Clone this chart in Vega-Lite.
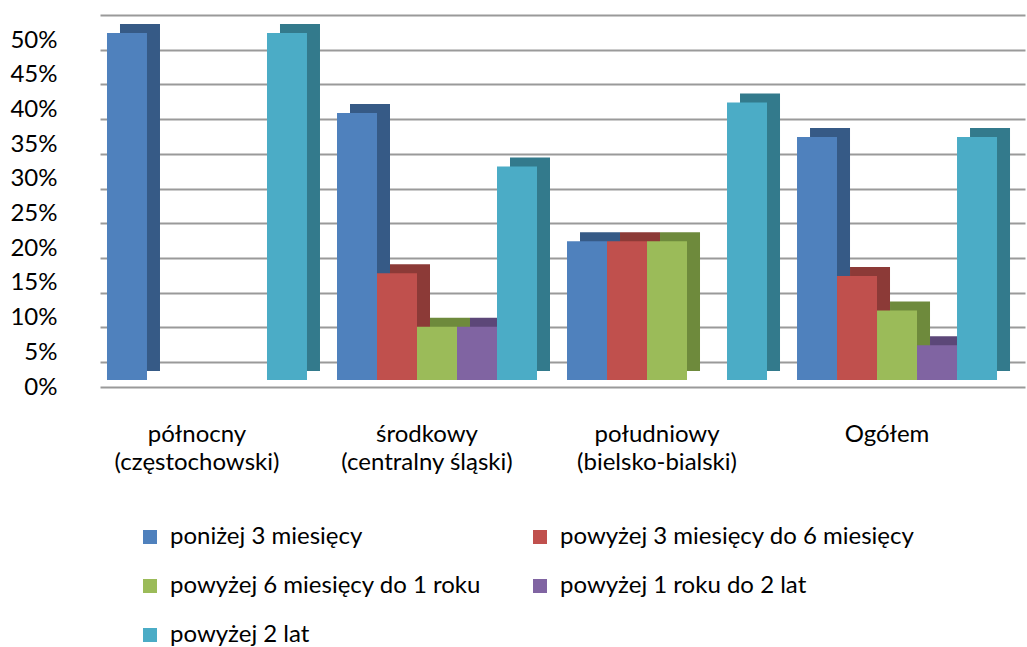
{
  "$schema": "https://vega.github.io/schema/vega-lite/v6.json",
  "width": 925,
  "height": 347,
  "autosize": {"type": "none"},
  "padding": {"left": 100, "top": 33, "right": 2, "bottom": 267},
  "background": "white",
  "config": {"font": "Lato", "view": {"stroke": null}},
  "data": {
    "values": [
      {"region": "północny|(częstochowski)", "series": "poniżej 3 miesięcy", "value": 0.5},
      {"region": "północny|(częstochowski)", "series": "powyżej 3 miesięcy do 6 miesięcy", "value": 0},
      {"region": "północny|(częstochowski)", "series": "powyżej 6 miesięcy do 1 roku", "value": 0},
      {"region": "północny|(częstochowski)", "series": "powyżej 1 roku do 2 lat", "value": 0},
      {"region": "północny|(częstochowski)", "series": "powyżej 2 lat", "value": 0.5},
      {"region": "środkowy|(centralny śląski)", "series": "poniżej 3 miesięcy", "value": 0.3846},
      {"region": "środkowy|(centralny śląski)", "series": "powyżej 3 miesięcy do 6 miesięcy", "value": 0.1538},
      {"region": "środkowy|(centralny śląski)", "series": "powyżej 6 miesięcy do 1 roku", "value": 0.0769},
      {"region": "środkowy|(centralny śląski)", "series": "powyżej 1 roku do 2 lat", "value": 0.0769},
      {"region": "środkowy|(centralny śląski)", "series": "powyżej 2 lat", "value": 0.3077},
      {"region": "południowy|(bielsko-bialski)", "series": "poniżej 3 miesięcy", "value": 0.2},
      {"region": "południowy|(bielsko-bialski)", "series": "powyżej 3 miesięcy do 6 miesięcy", "value": 0.2},
      {"region": "południowy|(bielsko-bialski)", "series": "powyżej 6 miesięcy do 1 roku", "value": 0.2},
      {"region": "południowy|(bielsko-bialski)", "series": "powyżej 1 roku do 2 lat", "value": 0},
      {"region": "południowy|(bielsko-bialski)", "series": "powyżej 2 lat", "value": 0.4},
      {"region": "Ogółem", "series": "poniżej 3 miesięcy", "value": 0.35},
      {"region": "Ogółem", "series": "powyżej 3 miesięcy do 6 miesięcy", "value": 0.15},
      {"region": "Ogółem", "series": "powyżej 6 miesięcy do 1 roku", "value": 0.1},
      {"region": "Ogółem", "series": "powyżej 1 roku do 2 lat", "value": 0.05},
      {"region": "Ogółem", "series": "powyżej 2 lat", "value": 0.35}
    ]
  },
  "encoding": {
    "x": {
      "field": "region",
      "type": "nominal",
      "sort": ["północny|(częstochowski)", "środkowy|(centralny śląski)", "południowy|(bielsko-bialski)", "Ogółem"],
      "scale": {"paddingInner": 0.1304, "paddingOuter": 0.076, "align": 0.2},
      "axis": {
        "title": null,
        "labelAngle": 0,
        "labelExpr": "split(datum.label, '|')",
        "labelFontSize": 24,
        "labelColor": "#000000",
        "labelLineHeight": 28,
        "labelPadding": 35,
        "labelOffset": -10,
        "ticks": false,
        "domain": true,
        "domainColor": "#9a9a9a",
        "domainWidth": 2,
        "offset": 7,
        "grid": false
      }
    },
    "y": {
      "field": "value",
      "type": "quantitative",
      "scale": {"domain": [0, 0.5], "nice": false},
      "axis": {
        "title": null,
        "format": ".0%",
        "values": [0, 0.05, 0.1, 0.15, 0.2, 0.25, 0.3, 0.35, 0.4, 0.45, 0.5],
        "labelFontSize": 24,
        "labelColor": "#000000",
        "labelPadding": 43,
        "tickOffset": -18,
        "labelOffset": 25,
        "ticks": false,
        "domain": false,
        "grid": true,
        "gridColor": "#9a9a9a",
        "gridWidth": 2
      }
    }
  },
  "layer": [
    {
      "mark": {"type": "bar", "yOffset": -9, "y2Offset": -9},
      "encoding": {
        "xOffset": {
          "field": "series",
          "sort": ["poniżej 3 miesięcy", "powyżej 3 miesięcy do 6 miesięcy", "powyżej 6 miesięcy do 1 roku", "powyżej 1 roku do 2 lat", "powyżej 2 lat"],
          "scale": {"range": [13, 213]}
        },
        "color": {
          "field": "series",
          "type": "nominal",
          "sort": ["poniżej 3 miesięcy", "powyżej 3 miesięcy do 6 miesięcy", "powyżej 6 miesięcy do 1 roku", "powyżej 1 roku do 2 lat", "powyżej 2 lat"],
          "scale": {"range": ["#365A86", "#8C3A37", "#6E8A3C", "#5C4778", "#337A8C"]},
          "legend": null
        }
      }
    },
    {
      "mark": {"type": "bar"},
      "encoding": {
        "xOffset": {
          "field": "series",
          "sort": ["poniżej 3 miesięcy", "powyżej 3 miesięcy do 6 miesięcy", "powyżej 6 miesięcy do 1 roku", "powyżej 1 roku do 2 lat", "powyżej 2 lat"],
          "scale": {"range": [0, 200]}
        },
        "color": {
          "field": "series",
          "type": "nominal",
          "sort": ["poniżej 3 miesięcy", "powyżej 3 miesięcy do 6 miesięcy", "powyżej 6 miesięcy do 1 roku", "powyżej 1 roku do 2 lat", "powyżej 2 lat"],
          "scale": {"range": ["#4F81BD", "#C0504D", "#9BBB59", "#8064A2", "#4BACC6"]},
          "legend": {
            "title": null,
            "orient": "none",
            "direction": "horizontal",
            "legendX": 38,
            "legendY": 492,
            "columns": 2,
            "columnPadding": 46,
            "rowPadding": 25,
            "symbolType": "square",
            "symbolSize": 196,
            "symbolStrokeWidth": 0,
            "labelFontSize": 24,
            "labelColor": "#000000",
            "labelLimit": 600,
            "labelOffset": 8
          }
        }
      }
    }
  ],
  "resolve": {"scale": {"color": "independent", "xOffset": "independent"}}
}
